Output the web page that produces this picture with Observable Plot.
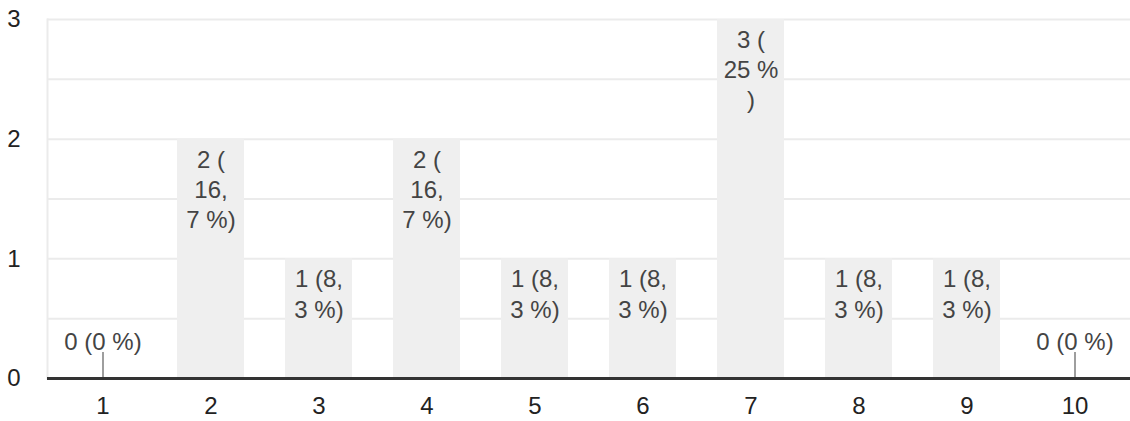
<!DOCTYPE html>
<html><head><meta charset="utf-8">
<script src="https://cdn.jsdelivr.net/npm/d3@7"></script>
<script src="https://cdn.jsdelivr.net/npm/@observablehq/plot@0.6"></script>
<style>html,body{margin:0;padding:0;background:#fff;}</style>
</head><body><div id="chart"></div>
<script>
const categories = ["1","2","3","4","5","6","7","8","9","10"];
const counts = [0, 2, 1, 2, 1, 1, 3, 1, 1, 0];
const labels = ["0 (0 %)", "2 (\n16,\n7 %)", "1 (8,\n3 %)", "2 (\n16,\n7 %)", "1 (8,\n3 %)", "1 (8,\n3 %)", "3 (\n25 %\n)", "1 (8,\n3 %)", "1 (8,\n3 %)", "0 (0 %)"];
const yTicks = [0, 1, 2, 3];
const gridValues = [0.5, 1, 1.5, 2, 2.5, 3];

const data = categories.map((c, i) => ({cat: c, count: counts[i], label: labels[i]}));
const nonzero = data.filter(d => d.count > 0);
const zero = data.filter(d => d.count === 0);

const FS = 24;
const chart = Plot.plot({
  width: 1130, height: 421,
  marginLeft: 47, marginRight: 0, marginTop: 19, marginBottom: 43,
  style: {fontFamily: "'Liberation Sans', Arial, sans-serif", fontSize: FS + "px", background: "#fff", color: "#222"},
  x: {domain: categories, paddingInner: 0.38, paddingOuter: 0.19, label: null},
  y: {domain: [0, 3], label: null},
  marks: [
    Plot.ruleY(gridValues, {stroke: "#ebebeb", strokeWidth: 2}),
    Plot.frame({anchor: "left", stroke: "#ebebeb", strokeWidth: 2}),
    Plot.barY(nonzero, {x: "cat", y: "count", fill: "#efefef"}),
    Plot.text(nonzero, {x: "cat", y: "count", text: "label", lineAnchor: "top", dy: 7, lineHeight: 1.26, fill: "#444", fontSize: FS}),
    Plot.ruleX(zero, {x: "cat", y1: "count", y2: "count", insetTop: -26, stroke: "#9e9e9e", strokeWidth: 2}),
    Plot.text(zero, {x: "cat", y: "count", text: "label", dy: -36, lineAnchor: "middle", fill: "#444", fontSize: FS}),
    Plot.ruleY([0], {stroke: "#333", strokeWidth: 3}),
    Plot.axisX({tickSize: 0, tickPadding: 18, label: null, fill: "#222", fontSize: FS}),
    Plot.axisY(yTicks, {tickSize: 0, tickPadding: 27, label: null, fill: "#222", fontSize: FS, tickFormat: d3.format("d")})
  ]
});
document.getElementById("chart").appendChild(chart);
</script>
</body></html>
